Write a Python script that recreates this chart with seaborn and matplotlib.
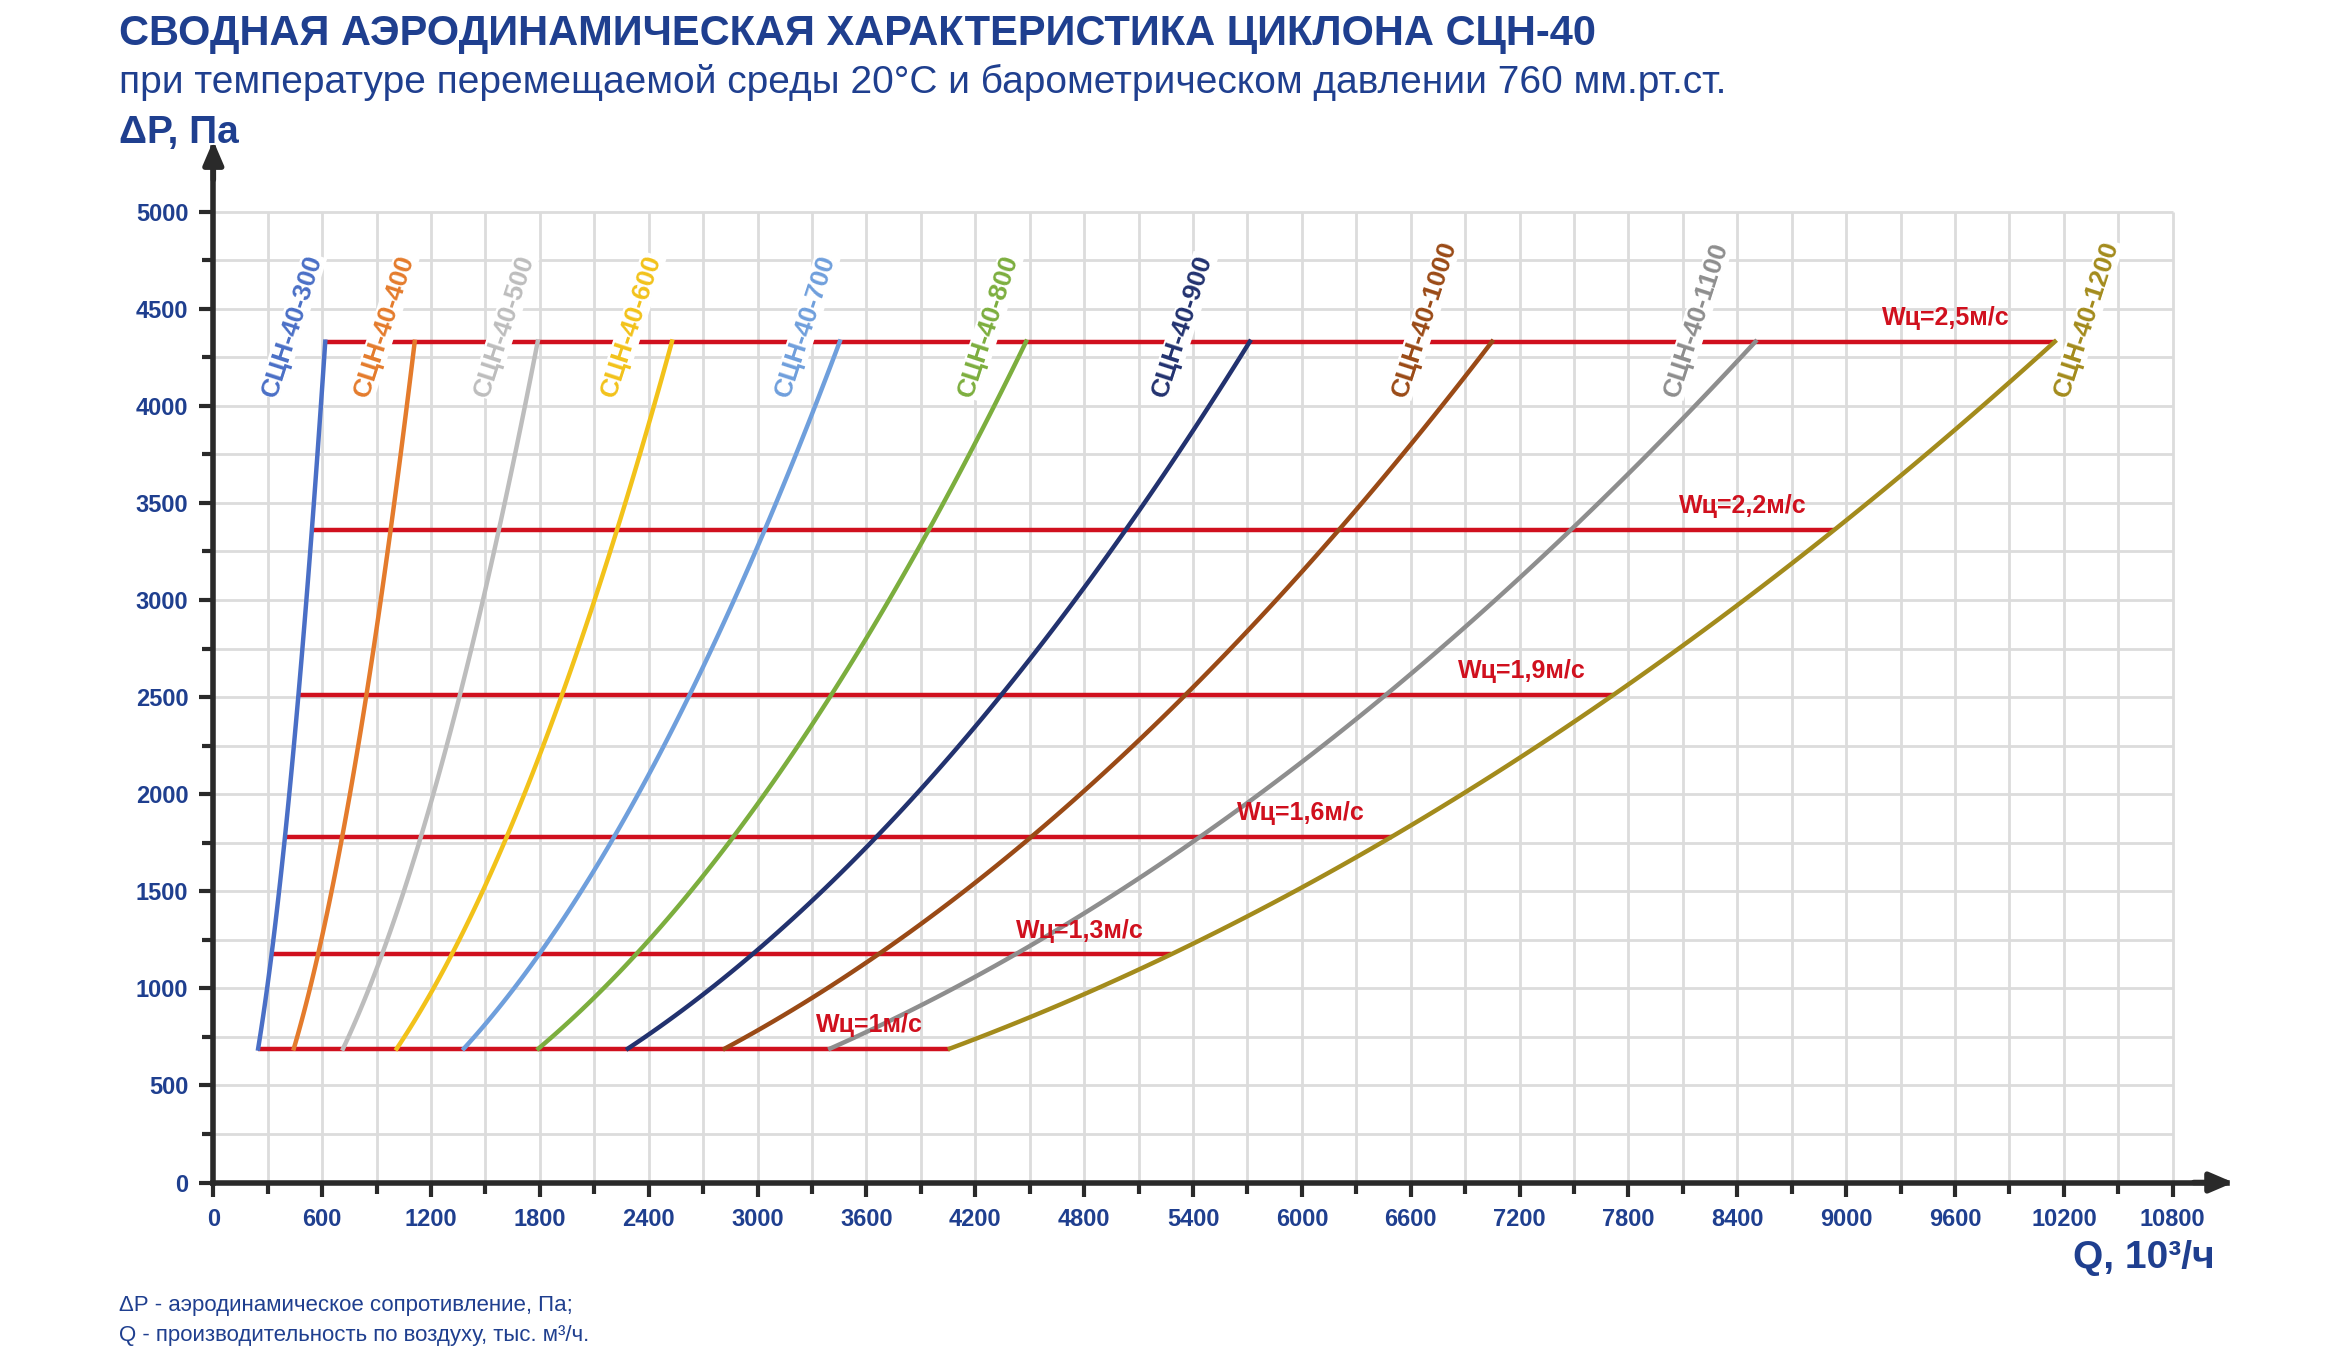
import numpy as np
import pandas as pd
import matplotlib
matplotlib.use("Agg")
import matplotlib.pyplot as plt
import seaborn as sns

plt.rcParams["font.family"] = "Liberation Sans"

models = ["СЦН-40-300", "СЦН-40-400", "СЦН-40-500", "СЦН-40-600", "СЦН-40-700",
          "СЦН-40-800", "СЦН-40-900", "СЦН-40-1000", "СЦН-40-1100", "СЦН-40-1200"]
colors = ["#4a6fc6", "#e47b2c", "#bdbdbd", "#f2c21a", "#6f9fdc",
          "#7cae3e", "#22326f", "#9a4a16", "#8e8e8e", "#a38b1c"]
speeds = [1.0, 1.3, 1.6, 1.9, 2.2, 2.5]
speed_labels = ["Wц=1м/с", "Wц=1,3м/с", "Wц=1,6м/с", "Wц=1,9м/с", "Wц=2,2м/с", "Wц=2,5м/с"]
dp_levels = [690, 1175, 1780, 2510, 3360, 4330]
# flow Q (m3/h) for each model at each speed
q_values = {
    "СЦН-40-300":  [247, 321, 395, 469, 543, 617],
    "СЦН-40-400":  [444, 577, 710, 844, 977, 1110],
    "СЦН-40-500":  [715, 930, 1144, 1359, 1573, 1788],
    "СЦН-40-600":  [1011, 1314, 1618, 1921, 2224, 2528],
    "СЦН-40-700":  [1381, 1795, 2210, 2624, 3038, 3453],
    "СЦН-40-800":  [1792, 2330, 2867, 3405, 3942, 4480],
    "СЦН-40-900":  [2285, 2971, 3656, 4342, 5027, 5713],
    "СЦН-40-1000": [2819, 3665, 4510, 5356, 6202, 7048],
    "СЦН-40-1100": [3400, 4420, 5440, 6460, 7480, 8500],
    "СЦН-40-1200": [4060, 5278, 6496, 7714, 8932, 10150],
}
# curve label positions (Q at label start)
label_q = [370, 880, 1540, 2240, 3200, 4210, 5280, 6600, 8100, 10250]

rows = []
for m in models:
    qs = np.array(q_values[m]); ds = np.array(dp_levels)
    k = np.polyfit(qs, ds, 2)
    for x in np.linspace(qs[0], qs[-1], 80):
        rows.append({"model": m, "Q": x, "dP": np.polyval(k, x)})
sdf = pd.DataFrame(rows)

fig = plt.figure(figsize=(23.39, 13.6), dpi=100)
ax = fig.add_axes([0.0912, 0.1305, 0.861, 0.761])
ax.set_xlim(0, 11100)
ax.set_ylim(0, 5330)

grid_c = "#dcdcdc"
ax.vlines(np.arange(300, 10801, 300), 0, 5000, color=grid_c, lw=2, zorder=0)
ax.hlines(np.arange(250, 5001, 250), 0, 10800, color=grid_c, lw=2, zorder=0)

red = "#d0101e"
for i, (w, dp) in enumerate(zip(speeds, dp_levels)):
    x0 = q_values[models[0]][i]; x1 = q_values[models[-1]][i]
    ax.hlines(dp, x0, x1, color=red, lw=3.2, zorder=3)

sns.lineplot(data=sdf, x="Q", y="dP", hue="model", hue_order=models,
             palette=colors, lw=3.2, legend=False, ax=ax, zorder=4, sort=False,
             estimator=None)

for i, lab in enumerate(speed_labels):
    xr = q_values[models[-1]][i]
    off = 250 if i == 5 else 150
    ax.text(xr - off, dp_levels[i] + 60, lab, color=red, fontsize=18,
            fontweight="bold", ha="right", va="bottom", zorder=5)

for m, c, lq in zip(models, colors, label_q):
    ax.text(lq, 4030, m, color=c, fontsize=19, fontweight="bold",
            rotation=72, rotation_mode="anchor", ha="left", va="bottom", zorder=5,
            bbox=dict(facecolor="white", edgecolor="none", pad=0.5))

for s in ["top", "right"]:
    ax.spines[s].set_visible(False)
for s in ["left", "bottom"]:
    ax.spines[s].set_linewidth(4)
    ax.spines[s].set_color("#2a2a2a")
ax.annotate("", xy=(11150, 0), xytext=(10900, 0),
            arrowprops=dict(arrowstyle="-|>,head_width=0.6,head_length=1.4", color="#2a2a2a", lw=4),
            annotation_clip=False)
ax.annotate("", xy=(0, 5380), xytext=(0, 5150),
            arrowprops=dict(arrowstyle="-|>,head_width=0.6,head_length=1.4", color="#2a2a2a", lw=4),
            annotation_clip=False)

navy = "#1f3f8f"
ax.set_xticks(np.arange(0, 10801, 600))
ax.set_xticks(np.arange(300, 10801, 600), minor=True)
ax.set_yticks(np.arange(0, 5001, 500))
ax.set_yticks(np.arange(250, 5001, 500), minor=True)
ax.tick_params(which="major", length=10, width=3, color="#2a2a2a", labelsize=17,
               labelcolor=navy, pad=8)
ax.tick_params(which="minor", length=8, width=3, color="#2a2a2a")
for t in ax.get_xticklabels() + ax.get_yticklabels():
    t.set_fontweight("bold")
ax.set_xlabel(""); ax.set_ylabel("")

fig.text(0.051, 0.975, "СВОДНАЯ АЭРОДИНАМИЧЕСКАЯ ХАРАКТЕРИСТИКА ЦИКЛОНА СЦН-40",
         fontsize=30, fontweight="bold", color=navy, va="center")
fig.text(0.051, 0.939, "при температуре перемещаемой среды 20°С и барометрическом давлении 760 мм.рт.ст.",
         fontsize=28, color=navy, va="center")
fig.text(0.051, 0.902, "ΔР, Па", fontsize=28, fontweight="bold", color=navy, va="center")
fig.text(0.947, 0.075, "Q, 10³/ч", fontsize=28, fontweight="bold", color=navy, va="center", ha="right")
fig.text(0.051, 0.040, "ΔР - аэродинамическое сопротивление, Па;", fontsize=16, color=navy, va="center")
fig.text(0.051, 0.018, "Q - производительность по воздуху, тыс. м³/ч.", fontsize=16, color=navy, va="center")

fig.savefig("out.png", dpi=100)
